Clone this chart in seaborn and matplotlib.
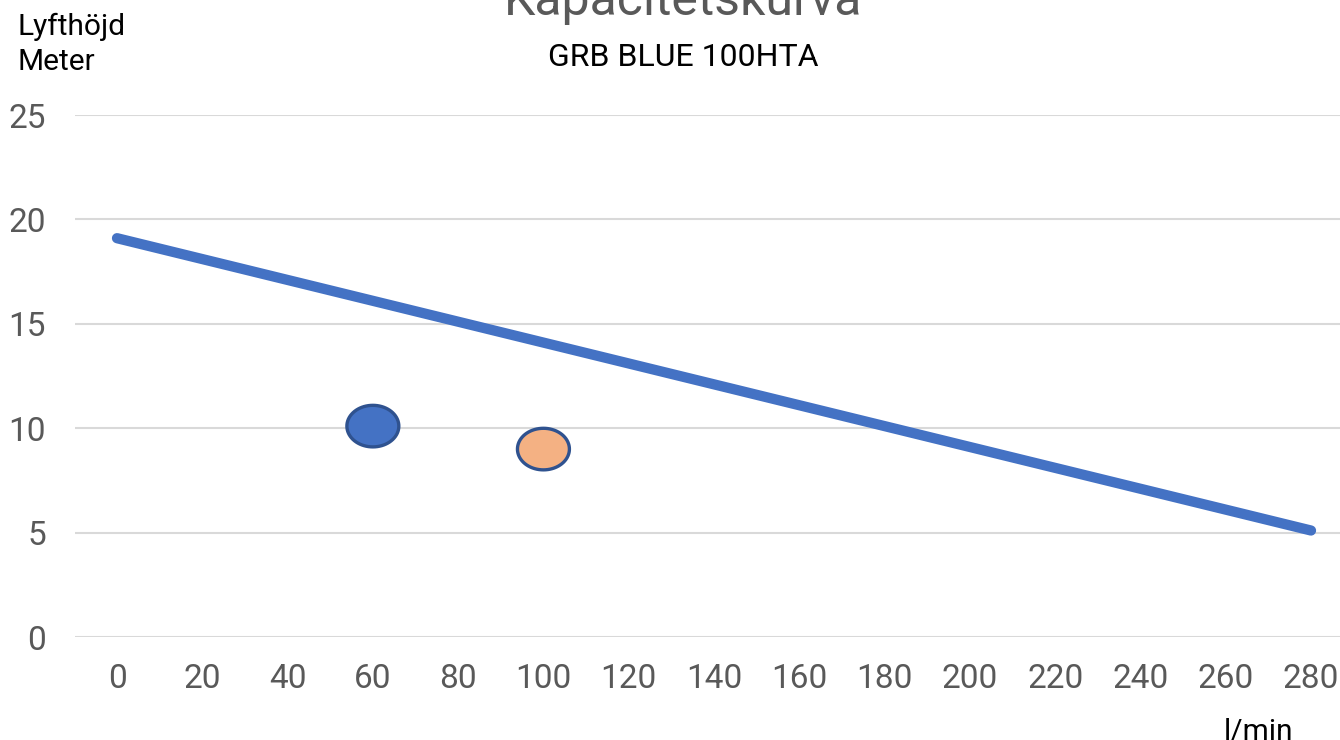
import numpy as np
import pandas as pd
import matplotlib
matplotlib.use("Agg")
import matplotlib.pyplot as plt
from matplotlib.path import Path
import seaborn as sns

# Data
curve_flow = [0, 280]
curve_head = [19.1, 5.1]
point_flow = [60, 100]
point_head = [10.1, 9.0]
point_names = ["A", "B"]
x_ticks = list(range(0, 281, 20))
y_ticks = [0, 5, 10, 15, 20, 25]

sns.set_theme(style="white")
plt.rcParams['font.family'] = ['Roboto', 'DejaVu Sans']

W, H = 1340, 740
fig = plt.figure(figsize=(W / 100, H / 100), dpi=100)
ax = fig.add_axes([75 / W, 1 - 637 / H, (1340 - 75) / W, (637 - 115) / H])

curve_df = pd.DataFrame({"flow": curve_flow, "head": curve_head})
sns.lineplot(data=curve_df, x="flow", y="head", ax=ax, color="#4472C4",
             linewidth=7.4, solid_capstyle="round", zorder=3)

# ellipse marker
t = np.linspace(0, 2 * np.pi, 73)
verts = np.column_stack([1.25 * np.cos(t), np.sin(t)])
ell = Path(verts, closed=True)

pts_df = pd.DataFrame({"flow": point_flow, "head": point_head, "name": point_names})
sns.scatterplot(data=pts_df, x="flow", y="head", hue="name",
                palette={"A": "#4472C4", "B": "#F4B183"}, marker=ell, s=1400,
                edgecolor="#2F528F", linewidth=2.4, ax=ax, legend=False, zorder=4)

ax.set_xlim(-9.85, 286.8)
ax.set_ylim(0, 25)
ax.set_xticks(x_ticks)
ax.set_yticks(y_ticks)
ax.set_xticklabels([str(v) for v in x_ticks])
ax.set_yticklabels([str(v) for v in y_ticks])
ax.yaxis.grid(True, color="#D9D9D9", linewidth=1.5)
ax.xaxis.grid(False)
for s in ax.spines.values():
    s.set_visible(False)
ax.tick_params(axis="both", length=0, labelsize=24, colors="#595959")
ax.tick_params(axis="x", pad=19)
ax.tick_params(axis="y", pad=21)
ax.set_xlabel("")
ax.set_ylabel("")

fig.text(683 / W, 1 - 15 / H, "Kapacitetskurva", ha="center", va="baseline",
         fontsize=36, color="#595959")
fig.text(683 / W, 1 - 66 / H, "GRB BLUE 100HTA", ha="center", va="baseline",
         fontsize=23, color="black")
fig.text(18 / W, 1 - 35 / H, "Lyfthöjd", ha="left", va="baseline",
         fontsize=21.5, color="black")
fig.text(18 / W, 1 - 70 / H, "Meter", ha="left", va="baseline",
         fontsize=21.5, color="black")
fig.text(1259 / W, 1 - 740 / H, "l/min", ha="center", va="baseline",
         fontsize=21.5, color="black")

fig.savefig("out.png", dpi=100)
